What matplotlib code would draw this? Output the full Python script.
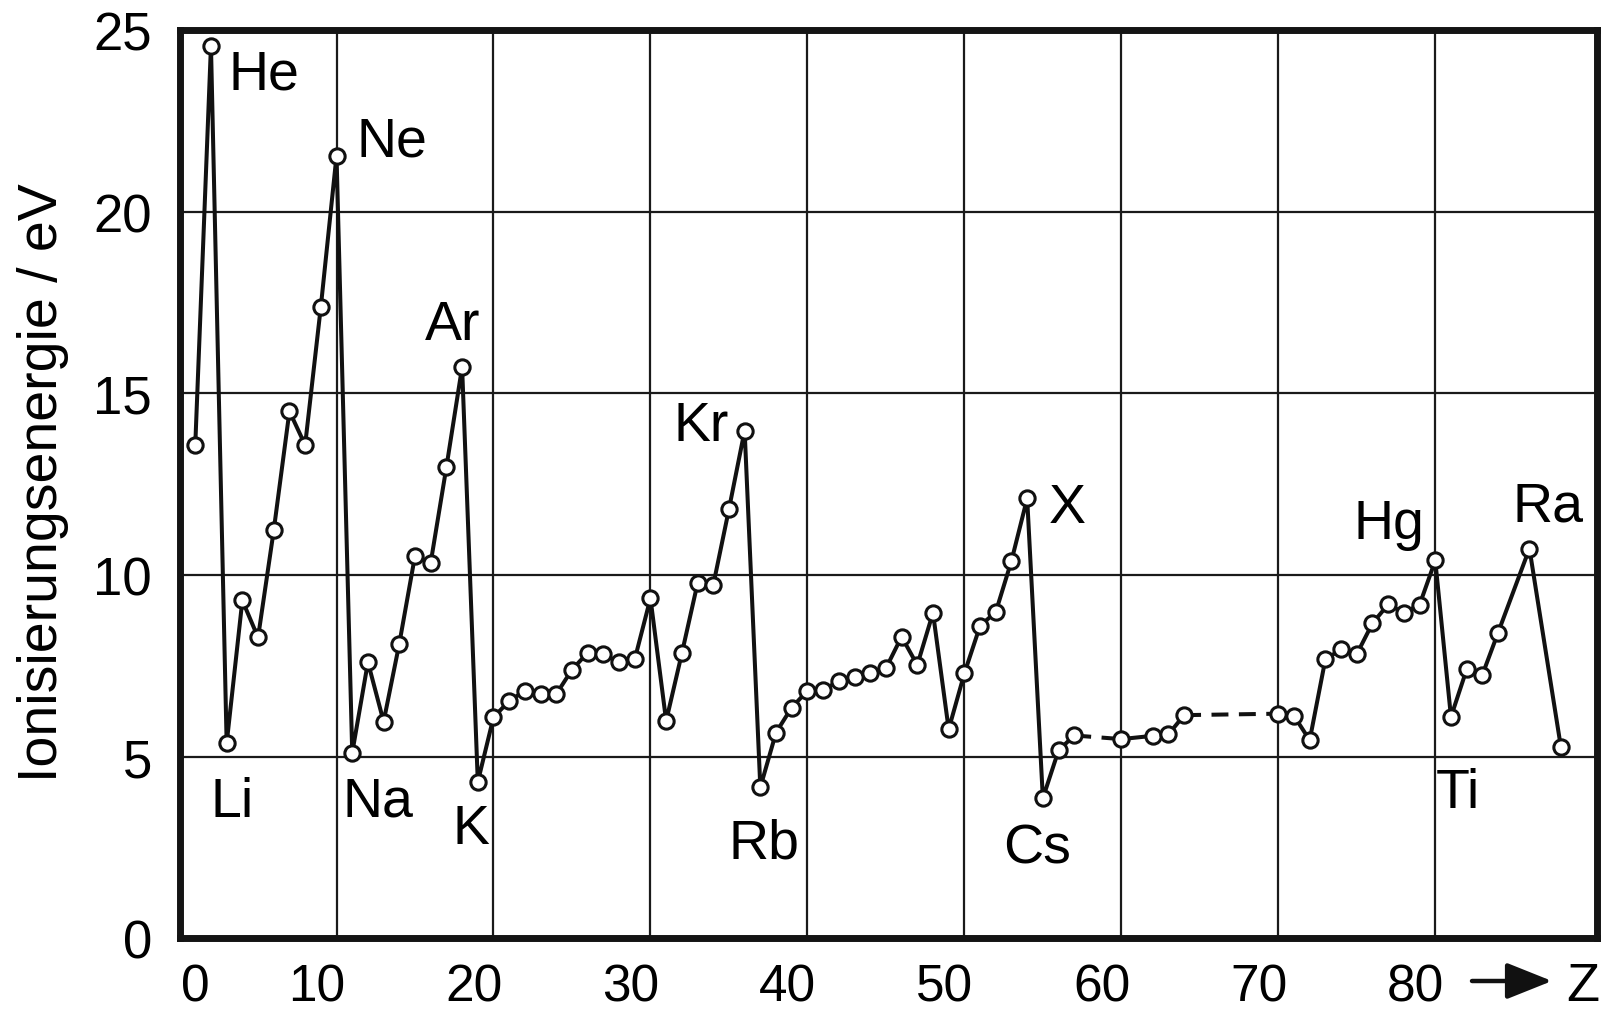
import matplotlib
matplotlib.use("Agg")
import matplotlib.pyplot as plt

plt.rcParams["font.family"] = ["Liberation Sans", "DejaVu Sans"]

# ---------- data ----------
Z = list(range(1, 58)) + [60, 62, 63, 64] + list(range(70, 85)) + [86, 88]
E = [13.58, 24.58, 5.36, 9.30, 8.28, 11.23, 14.51, 13.58, 17.39, 21.55,
     5.10, 7.60, 5.96, 8.11, 10.53, 10.34, 12.97, 15.73, 4.30, 6.08,
     6.53, 6.81, 6.72, 6.72, 7.39, 7.86, 7.82, 7.59, 7.68, 9.36,
     5.98, 7.84, 9.77, 9.72, 11.81, 13.98, 4.15, 5.66, 6.35, 6.81,
     6.83, 7.08, 7.19, 7.31, 7.43, 8.30, 7.52, 8.96, 5.75, 7.29,
     8.60, 8.98, 10.39, 12.11, 3.85, 5.17, 5.58,
     5.48, 5.57, 5.61, 6.14,
     6.18, 6.12, 5.45, 7.68, 7.95, 7.82, 8.67, 9.19, 8.96, 9.18, 10.40,
     6.09, 7.40, 7.25, 8.41, 10.73, 5.27]
DASHED_AFTER = [57, 64]   # gaps in the measured series, bridged by a dashed line

XTICKS = [0, 10, 20, 30, 40, 50, 60, 70, 80]
YTICKS = [0, 5, 10, 15, 20, 25]

ELEMENTS = ["He", "Ne", "Ar", "Kr", "X", "Hg", "Ra", "Li", "Na", "K", "Rb", "Cs", "Ti"]
ELEM_Z = [3.1, 11.3, 15.6, 31.5, 55.4, 74.8, 84.9, 2.0, 10.4, 17.4, 35.0, 52.5, 80.0]
ELEM_E = [23.4, 21.55, 16.5, 13.71, 11.46, 11.03, 11.49, 3.37, 3.37, 2.62, 2.22, 2.09, 3.6]

fig = plt.figure(figsize=(16.09, 10.12), dpi=100)
ax = fig.add_axes([0.1116, 0.0721, 0.9925 - 0.1116, 0.9689 - 0.0721])

# line pieces: solid where neighbours were measured, dashed across gaps
start = 0
for i in range(len(Z) - 1):
    if Z[i] in DASHED_AFTER:
        ax.plot(Z[start:i + 1], E[start:i + 1], color="#111111", lw=2.9, zorder=3)
        ax.plot(Z[i:i + 2], E[i:i + 2], color="#111111", lw=2.9, ls=(0, (4.2, 2.6)), zorder=3)
        start = i + 1
ax.plot(Z[start:], E[start:], color="#111111", lw=2.9, zorder=3)
ax.plot(Z, E, ls="none", marker="o", ms=11, mew=2.2, mfc="white", mec="#111111", zorder=4)

ax.set_xlim(0, 90.3)
ax.set_ylim(0, 25)
ax.set_xticks(XTICKS)
ax.set_yticks(YTICKS)
ax.grid(True, color="#1a1a1a", lw=1.6, zorder=1)
ax.set_axisbelow(True)
for s in ax.spines.values():
    s.set_linewidth(5)
    s.set_color("#141414")
    s.set_zorder(5)
ax.tick_params(length=0, labelsize=38, pad=20)
ax.set_xticklabels([])

# x tick labels sit slightly left of their grid lines in the original
xtr = ax.get_xaxis_transform()
for t in XTICKS:
    pos = 1.0 if t == 0 else t - 1.25
    ax.text(pos, -0.069, str(t), transform=xtr, ha="center", va="baseline",
            fontsize=37, clip_on=False)

for name, zx, ey in zip(ELEMENTS, ELEM_Z, ELEM_E):
    ax.text(zx, ey, name, ha="left", va="baseline", fontsize=40, zorder=6)

fig.text(43 / 1609, 0.523, "Ionisierungsenergie / eV", rotation=90,
         ha="center", va="center", fontsize=40)

# "-> Z" at the end of the x axis
yarr = 1 - 982 / 1012
ax.annotate("", xy=(1552 / 1609, yarr), xytext=(1472 / 1609, yarr),
            xycoords="figure fraction", textcoords="figure fraction",
            arrowprops=dict(arrowstyle="-|>,head_length=0.7,head_width=0.28",
                            lw=3.2, color="#111111", mutation_scale=40,
                            shrinkA=0, shrinkB=0))
fig.text(1566 / 1609, 1 - 1001 / 1012, "Z", ha="left", va="baseline", fontsize=39)

fig.savefig("out.png", dpi=100)
